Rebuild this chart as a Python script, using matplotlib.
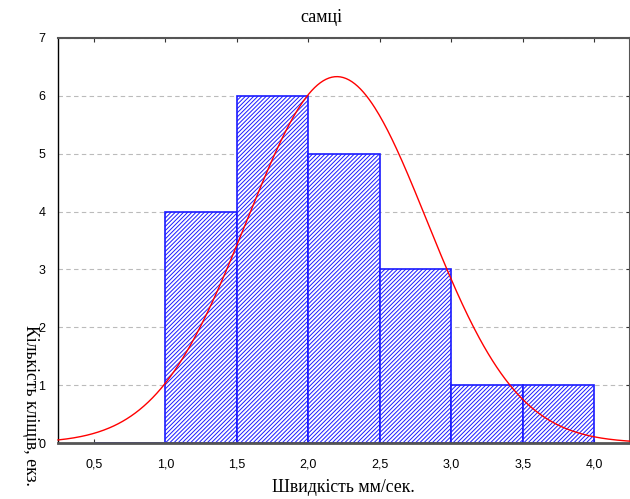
import numpy as np
import matplotlib
matplotlib.use("Agg")
import matplotlib.pyplot as plt
from matplotlib.ticker import FuncFormatter

# Histogram of movement speed (males)
bin_left = [0.5, 1.0, 1.5, 2.0, 2.5, 3.0, 3.5]
counts = [0, 4, 6, 5, 3, 1, 1]
bin_width = 0.5
n_total = 20
fit_mean = 2.2
fit_sd = 0.63

x_ticks = [0.5, 1.0, 1.5, 2.0, 2.5, 3.0, 3.5, 4.0]
y_ticks = [0, 1, 2, 3, 4, 5, 6, 7]

title = "самці"
x_label = "Швидкість мм/сек."
y_label = "Кількість кліщів, екз."

plt.rcParams["hatch.linewidth"] = 0.7
plt.rcParams["hatch.color"] = "#5a5aff"

fig = plt.figure(figsize=(6.30, 4.99), dpi=100)
ax = fig.add_axes([58 / 630, 56 / 499, 572 / 630, 405 / 499])

bars = ax.bar(bin_left, counts, width=bin_width, align="edge", facecolor="white",
              edgecolor="#1a1aff", linewidth=1.2, hatch="////////", zorder=2)

xs = np.linspace(0.25, 4.25, 400)
pdf = n_total * bin_width / (fit_sd * np.sqrt(2 * np.pi)) * np.exp(-0.5 * ((xs - fit_mean) / fit_sd) ** 2)
ax.plot(xs, pdf, color="#ff0000", linewidth=1.0, zorder=3, clip_on=False)

ax.set_xlim(0.25, 4.25)
ax.set_ylim(0, 7)
ax.set_xticks(x_ticks)
ax.set_yticks(y_ticks)
ax.xaxis.set_major_formatter(FuncFormatter(lambda v, p: f"{v:.1f}".replace(".", ",")))
ax.yaxis.set_major_formatter(FuncFormatter(lambda v, p: f"{int(v)}"))

for lab in ax.get_xticklabels() + ax.get_yticklabels():
    lab.set_fontfamily("Liberation Sans")
    lab.set_fontsize(9)

ax.tick_params(axis="x", direction="in", length=3, pad=11, top=True, color="#333333")
ax.tick_params(axis="y", direction="in", length=3, pad=9, right=True, left=False, color="#333333")

ax.yaxis.grid(True, linestyle=(0, (4, 3)), color="#bbbbbb", linewidth=0.8, zorder=0)
ax.set_axisbelow(True)

ax.spines["left"].set_color("black")
ax.spines["left"].set_linewidth(1.0)
ax.spines["bottom"].set_color("#555555")
ax.spines["bottom"].set_linewidth(2.0)
ax.spines["top"].set_color("#555555")
ax.spines["top"].set_linewidth(1.5)
ax.spines["right"].set_color("#555555")
ax.spines["right"].set_linewidth(1.5)

fig.text(321 / 630, 1 - 18 / 499, title, ha="center", va="center",
         fontfamily="Liberation Serif", fontsize=13)
fig.text(343 / 630, 1 - 488 / 499, x_label, ha="center", va="center",
         fontfamily="Liberation Serif", fontsize=12.8)
fig.text(30 / 630, 1 - 325 / 499, y_label, ha="center", va="top", rotation=270,
         fontfamily="Liberation Serif", fontsize=12.8)

fig.savefig("out.png", dpi=100)
